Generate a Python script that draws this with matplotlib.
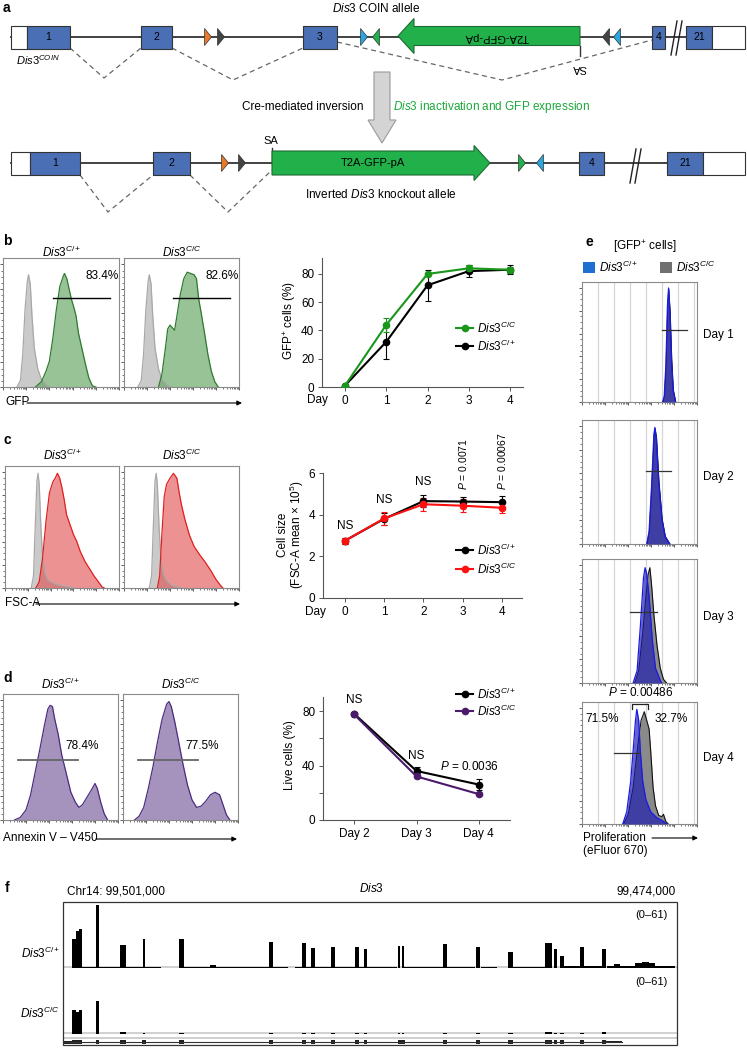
import numpy as np
import matplotlib
matplotlib.use('Agg')
import matplotlib.pyplot as plt
from matplotlib.patches import Rectangle, Polygon

plt.rcParams['font.family'] = ['Liberation Sans', 'DejaVu Sans']
plt.rcParams['mathtext.fontset'] = 'custom'
plt.rcParams['mathtext.rm'] = 'Liberation Sans'
plt.rcParams['mathtext.it'] = 'Liberation Sans:italic'
plt.rcParams['mathtext.bf'] = 'Liberation Sans:bold'

# ------------------------------------------------------------------ data
CP = r'$\mathit{Dis3}^{C/\!+}$'
CC = r'$\mathit{Dis3}^{C/C}$'

# b: GFP+ cells (%)
days_b = [0, 1, 2, 3, 4]
gfp_cc = [1, 44, 80, 84, 83]
gfp_cc_err = [0.5, 5, 1, 2.5, 2]
gfp_cp = [1, 32, 72, 82, 83]
gfp_cp_err = [0.5, 12, 11, 4, 3]

# c: cell size (FSC-A mean x 1e5)
days_c = [0, 1, 2, 3, 4]
size_cp = [2.75, 3.8, 4.65, 4.63, 4.6]
size_cp_err = [0.15, 0.3, 0.3, 0.2, 0.3]
size_cc = [2.75, 3.82, 4.5, 4.43, 4.33]
size_cc_err = [0.15, 0.3, 0.3, 0.3, 0.25]
size_annot = ['NS', 'NS', 'NS', r'$\mathit{P}$ = 0.0071', r'$\mathit{P}$ = 0.00067']

# d: live cells (%)
days_d = [2, 3, 4]
day_d_labels = ['Day 2', 'Day 3', 'Day 4']
live_cp = [78, 36, 26]
live_cp_err = [1, 3, 4]
live_cc = [77.5, 32, 19]
live_cc_err = [1, 1, 1]

# flow histograms (x fraction, y fraction of box)
b1_gray = [(0.12, 0), (0.15, 0.05), (0.17, 0.25), (0.19, 0.6), (0.21, 0.82), (0.22, 0.87), (0.235, 0.8),
           (0.25, 0.55), (0.27, 0.3), (0.30, 0.14), (0.33, 0.06), (0.37, 0.02), (0.40, 0)]
b1_green = [(0.28, 0), (0.33, 0.04), (0.37, 0.12), (0.40, 0.2), (0.43, 0.38), (0.46, 0.6), (0.49, 0.78),
            (0.52, 0.86), (0.53, 0.88), (0.55, 0.84), (0.57, 0.76), (0.59, 0.68), (0.61, 0.62), (0.63, 0.55),
            (0.65, 0.42), (0.68, 0.3), (0.71, 0.18), (0.74, 0.07), (0.77, 0.01), (0.80, 0)]
b2_gray = [(0.12, 0), (0.15, 0.05), (0.17, 0.25), (0.19, 0.6), (0.21, 0.82), (0.22, 0.87), (0.235, 0.8),
           (0.25, 0.55), (0.27, 0.3), (0.30, 0.14), (0.33, 0.06), (0.37, 0.02), (0.40, 0)]
b2_green = [(0.30, 0), (0.33, 0.1), (0.36, 0.3), (0.38, 0.45), (0.40, 0.48), (0.42, 0.46), (0.44, 0.44),
            (0.46, 0.55), (0.49, 0.72), (0.52, 0.84), (0.55, 0.89), (0.58, 0.88), (0.61, 0.87), (0.63, 0.84),
            (0.65, 0.68), (0.67, 0.58), (0.70, 0.42), (0.73, 0.25), (0.76, 0.12), (0.79, 0.04), (0.82, 0)]
b_pct = ['83.4%', '82.6%']

c1_gray = [(0.23, 0), (0.25, 0.1), (0.265, 0.5), (0.28, 0.88), (0.29, 0.94), (0.30, 0.85), (0.315, 0.5),
           (0.33, 0.25), (0.35, 0.12), (0.38, 0.06), (0.45, 0.03), (0.55, 0.01), (0.6, 0)]
c1_red = [(0.27, 0), (0.30, 0.05), (0.33, 0.25), (0.36, 0.55), (0.39, 0.78), (0.42, 0.87), (0.44, 0.9),
          (0.46, 0.94), (0.48, 0.9), (0.50, 0.82), (0.52, 0.72), (0.54, 0.6), (0.57, 0.52), (0.60, 0.44),
          (0.63, 0.38), (0.66, 0.3), (0.70, 0.22), (0.74, 0.16), (0.78, 0.1), (0.82, 0.05), (0.85, 0.01), (0.87, 0)]
c2_gray = [(0.22, 0), (0.24, 0.1), (0.255, 0.5), (0.27, 0.88), (0.28, 0.94), (0.29, 0.85), (0.305, 0.5),
           (0.32, 0.25), (0.34, 0.12), (0.37, 0.06), (0.42, 0.02), (0.5, 0)]
c2_red = [(0.29, 0), (0.31, 0.1), (0.33, 0.45), (0.35, 0.75), (0.37, 0.85), (0.40, 0.9), (0.43, 0.94),
          (0.46, 0.9), (0.48, 0.78), (0.50, 0.68), (0.53, 0.56), (0.57, 0.43), (0.61, 0.34), (0.66, 0.27),
          (0.70, 0.22), (0.75, 0.15), (0.80, 0.07), (0.84, 0.02), (0.86, 0)]

d1_purple = [(0.10, 0), (0.15, 0.02), (0.20, 0.08), (0.24, 0.2), (0.28, 0.38), (0.32, 0.56), (0.36, 0.75),
             (0.39, 0.88), (0.41, 0.91), (0.43, 0.9), (0.45, 0.8), (0.48, 0.68), (0.51, 0.52), (0.55, 0.37),
             (0.59, 0.22), (0.63, 0.14), (0.66, 0.1), (0.69, 0.12), (0.73, 0.18), (0.77, 0.24), (0.80, 0.29),
             (0.82, 0.25), (0.85, 0.14), (0.88, 0.05), (0.91, 0)]
d2_purple = [(0.10, 0), (0.14, 0.03), (0.18, 0.1), (0.22, 0.25), (0.26, 0.42), (0.30, 0.62), (0.34, 0.8),
             (0.38, 0.92), (0.40, 0.94), (0.42, 0.9), (0.45, 0.78), (0.48, 0.64), (0.52, 0.45), (0.56, 0.28),
             (0.60, 0.16), (0.64, 0.1), (0.68, 0.11), (0.72, 0.15), (0.76, 0.2), (0.80, 0.22), (0.84, 0.2),
             (0.87, 0.12), (0.90, 0.04), (0.93, 0)]
d_pct = ['78.4%', '77.5%']

# e: proliferation histograms (x in gridline units 0..7.2, y fraction)
e_cp = [
    [(5.05, 0), (5.15, 0.05), (5.25, 0.3), (5.35, 0.8), (5.42, 0.95), (5.5, 0.75), (5.6, 0.35), (5.7, 0.1), (5.85, 0)],
    [(4.05, 0), (4.2, 0.1), (4.35, 0.45), (4.5, 0.88), (4.56, 0.94), (4.65, 0.85), (4.8, 0.5), (5.0, 0.2), (5.2, 0.06), (5.5, 0)],
    [(3.2, 0), (3.45, 0.1), (3.65, 0.45), (3.85, 0.85), (3.95, 0.93), (4.05, 0.88), (4.2, 0.7), (4.4, 0.35), (4.6, 0.12), (4.9, 0.02), (5.0, 0)],
    [(2.55, 0), (2.8, 0.1), (3.05, 0.35), (3.2, 0.6), (3.35, 0.85), (3.43, 0.94), (3.55, 0.85), (3.65, 0.6), (3.8, 0.35),
     (4.0, 0.2), (4.3, 0.1), (4.7, 0.05), (5.0, 0.03), (5.3, 0)],
]
e_cc = [
    [(5.07, 0), (5.17, 0.05), (5.27, 0.3), (5.37, 0.8), (5.43, 0.94), (5.52, 0.75), (5.62, 0.35), (5.72, 0.1), (5.87, 0)],
    [(4.08, 0), (4.22, 0.1), (4.37, 0.45), (4.52, 0.88), (4.58, 0.93), (4.67, 0.85), (4.82, 0.5), (5.02, 0.2), (5.22, 0.06), (5.5, 0)],
    [(3.3, 0), (3.55, 0.1), (3.8, 0.4), (4.0, 0.7), (4.15, 0.88), (4.25, 0.93), (4.35, 0.8), (4.5, 0.55), (4.7, 0.3),
     (4.9, 0.12), (5.1, 0.03), (5.3, 0)],
    [(2.6, 0), (2.9, 0.08), (3.2, 0.3), (3.5, 0.65), (3.7, 0.85), (3.9, 0.92), (4.05, 0.85), (4.2, 0.78), (4.3, 0.6),
     (4.45, 0.3), (4.6, 0.15), (4.8, 0.07), (5.0, 0.06), (5.1, 0.08), (5.25, 0.02), (5.4, 0)],
]
e_days = ['Day 1', 'Day 2', 'Day 3', 'Day 4']
e_gate = [(5.0, 6.6, 0.6), (4.0, 5.6, 0.59), (3.0, 4.7, 0.57), (2.0, 3.6, 0.58)]

# f: RNA-seq coverage (kb from left edge, 0-61 scale)
exon_kb = [0.48, 0.63, 0.77, 1.52, 2.64, 3.56, 5.20, 9.15, 10.60, 10.99, 11.87, 12.93, 13.32, 14.78, 14.95,
           16.80, 18.25, 19.70, 21.35, 21.65, 21.94, 22.82, 23.79]
exon_w = [0.16, 0.16, 0.14, 0.17, 0.28, 0.12, 0.2, 0.2, 0.15, 0.14, 0.17, 0.17, 0.14, 0.12, 0.12,
          0.17, 0.15, 0.22, 0.32, 0.14, 0.17, 0.17, 0.17]
cov_cp = [28, 36, 38, 61, 22, 28.5, 28.5, 25, 24.7, 19.5, 20, 20, 18, 21.4, 21.4, 23, 20.4, 15.6, 24.7, 18.8, 11.4, 20.4, 18.8]
cov_cc = [23, 21, 23, 32, 1.5, 0.8, 1.2, 1.0, 1.0, 1.0, 1.2, 1.0, 0.8, 1.2, 0.8, 1.2, 1.2, 0.8, 1.5, 1.2, 1.0, 1.0, 1.5]
bump_kb = [6.6, 24.36, 25.3, 25.6, 25.9]
bump_h = [2.6, 4.2, 5.0, 5.8, 4.5]
bg_segments = [(0.85, 1.45, 1.0), (1.6, 2.5, 0.9), (2.78, 3.5, 0.8), (3.62, 4.3, 0.8), (5.3, 9.05, 0.9),
               (9.25, 9.9, 0.5), (10.2, 10.55, 0.8), (10.65, 10.95, 0.8), (11.05, 14.7, 1.0), (15.0, 16.7, 0.9),
               (16.9, 18.1, 0.9), (18.4, 19.1, 0.5), (19.8, 21.2, 1.3), (22.0, 22.75, 1.8), (22.9, 23.7, 1.8),
               (23.9, 26.9, 2.0)]

# ------------------------------------------------------------------ figure
W, H = 747, 1050
fig = plt.figure(figsize=(W / 100, H / 100), dpi=100)
ov = fig.add_axes([0, 0, 1, 1])
ov.set_xlim(0, W)
ov.set_ylim(H, 0)
ov.axis('off')
ov.set_zorder(10)
ov.patch.set_visible(False)


def px_axes(x0, y0, x1, y1):
    a = fig.add_axes([x0 / W, 1 - y1 / H, (x1 - x0) / W, (y1 - y0) / H])
    a.patch.set_visible(False)
    return a


def T(x, y, s, **kw):
    kw.setdefault('fontsize', 8.5)
    kw.setdefault('ha', 'center')
    kw.setdefault('va', 'center')
    return ov.text(x, y, s, **kw)


# panel letters
for lab, (x, y) in {'a': (3, 8), 'b': (3, 241), 'c': (3, 440), 'd': (3, 678), 'e': (585, 242), 'f': (5, 888)}.items():
    T(x, y, lab, fontsize=10, fontweight='bold', ha='left')

# ------------------------------------------------------------------ panel a
EXB = '#4a6fb5'
GRN = '#22b04b'


def exon(x0, x1, yc, label=None, fc=EXB, h=23):
    ov.add_patch(Rectangle((x0, yc - h / 2), x1 - x0, h, fc=fc, ec='#333333', lw=0.8, zorder=3))
    if label:
        T((x0 + x1) / 2, yc, label, fontsize=7.5, zorder=4)


def tri(x, yc, d, color, w=7, h=17):
    if d > 0:
        pts = [(x - w / 2, yc - h / 2), (x - w / 2, yc + h / 2), (x + w / 2, yc)]
    else:
        pts = [(x + w / 2, yc - h / 2), (x + w / 2, yc + h / 2), (x - w / 2, yc)]
    ov.add_patch(Polygon(pts, closed=True, fc=color, ec='#333333', lw=0.5, zorder=3))


def big_arrow(x_tail, x_neck, x_tip, yc, bh, hh):
    pts = [(x_tail, yc - bh / 2), (x_neck, yc - bh / 2), (x_neck, yc - hh / 2), (x_tip, yc),
           (x_neck, yc + hh / 2), (x_neck, yc + bh / 2), (x_tail, yc + bh / 2)]
    ov.add_patch(Polygon(pts, closed=True, fc=GRN, ec='#1d6b33', lw=0.8, zorder=3))


def dashed(pts):
    xs, ys = zip(*pts)
    ov.plot(xs, ys, color='#666666', lw=0.9, ls=(0, (4, 3)), zorder=1)


# top allele
y1 = 37
ov.plot([11, 745], [y1, y1], color='#333333', lw=1.3, zorder=1)
exon(11, 27, y1, fc='white')
exon(27, 70, y1, '1')
exon(141, 172, y1, '2')
tri(208, y1, 1, '#e8782a')
tri(221, y1, 1, '#444444')
exon(303, 337, y1, '3')
tri(364, y1, 1, '#29a8e0')
tri(376, y1, -1, GRN)
big_arrow(580, 414, 398, 36, 19, 35)
T(497, 37, 'T2A-GFP-pA', fontsize=8, rotation=180, zorder=4)
tri(606, y1, -1, '#444444')
tri(617, y1, -1, '#29a8e0')
exon(652, 665, y1, '4')
exon(686, 712, y1, '21')
exon(712, 745, y1, fc='white')
ov.plot([671, 677], [55, 21], color='#222222', lw=1.0, zorder=4)
ov.plot([676, 682], [55, 21], color='#222222', lw=1.0, zorder=4)
ov.plot([580, 580], [46, 56], color='#333333', lw=1.0)
T(579, 68, 'SA', fontsize=8, rotation=180)
T(38, 60, r'$\mathit{Dis3}^{COIN}$', fontsize=8)
T(376, 8, r'$\mathit{Dis3}$ COIN allele', fontsize=8.5)
dashed([(70, 48), (104, 78), (141, 48)])
dashed([(172, 48), (233, 80), (303, 48)])
dashed([(337, 42), (502, 80), (652, 40)])

# gray arrow
ov.add_patch(Polygon([(374, 72), (390, 72), (390, 120), (396, 120), (382, 143), (368, 120), (374, 120)],
                     closed=True, fc='#d4d4d4', ec='#9a9a9a', lw=0.8))
T(364, 107, 'Cre-mediated inversion', ha='right', fontsize=8.5)
T(393, 107, r'$\mathit{Dis3}$ inactivation and GFP expression', ha='left', fontsize=8.5, color='#1aa83a')

# bottom allele
y2 = 163
ov.plot([11, 745], [y2, y2], color='#333333', lw=1.3, zorder=1)
exon(11, 30, y2, fc='white')
exon(30, 80, y2, '1')
exon(153, 190, y2, '2')
tri(225, y2, 1, '#e8782a')
tri(242, y2, 1, '#444444')
ov.plot([272, 272], [148, 163], color='#333333', lw=1.0)
T(271, 141, 'SA', fontsize=8)
big_arrow(272, 474, 490, y2, 24, 35)
T(373, y2, 'T2A-GFP-pA', fontsize=8, zorder=4)
tri(522, y2, 1, GRN)
tri(540, y2, -1, '#29a8e0')
exon(579, 604, y2, '4')
exon(667, 703, y2, '21')
exon(703, 745, y2, fc='white')
ov.plot([630, 636], [183, 149], color='#222222', lw=1.0, zorder=4)
ov.plot([635, 641], [183, 149], color='#222222', lw=1.0, zorder=4)
dashed([(80, 175), (108, 212), (153, 175)])
dashed([(190, 175), (228, 212), (272, 170)])
T(381, 194, r'Inverted $\mathit{Dis3}$ knockout allele', fontsize=8.5)


# ------------------------------------------------------------------ flow histograms helpers
def style_hist(ax, ymax=1.0, xlim=(0, 1)):
    ax.set_xlim(*xlim)
    ax.set_ylim(0, ymax)
    for s in ax.spines.values():
        s.set_color('#8a8a8a')
        s.set_linewidth(0.8)
    ax.set_yticks(np.linspace(0, ymax * 0.95, 6))
    ax.set_yticks(np.linspace(0, ymax * 0.95, 21), minor=True)
    x0, x1 = xlim
    span = x1 - x0
    maj = [x0 + span * k / 5 for k in range(6)]
    mnr = [x0 + span * (k + np.log10(m)) / 5 for k in range(5) for m in range(2, 10)]
    ax.set_xticks(maj)
    ax.set_xticks(mnr, minor=True)
    ax.tick_params(which='major', length=2.5, width=0.6, color='#444444', labelleft=False, labelbottom=False)
    ax.tick_params(which='minor', length=1.3, width=0.5, color='#444444')


def curve(ax, pts, fc, ec, alpha=1.0, lw=0.9, z=2):
    x, y = np.array(pts).T
    ax.fill_between(x, 0, y, color=fc, alpha=alpha, lw=0, zorder=z)
    ax.plot(x, y, color=ec, lw=lw, zorder=z + 0.5)


def arrow(x0, x1, y):
    ov.annotate('', xy=(x1, y), xytext=(x0, y),
                arrowprops=dict(arrowstyle='-|>', lw=0.8, color='black', mutation_scale=7, shrinkA=0, shrinkB=0))


# ------------------------------------------------------------------ panel b
for i, (x0, x1, g, gr, pct) in enumerate([(3, 119, b1_gray, b1_green, b_pct[0]),
                                          (124, 239, b2_gray, b2_green, b_pct[1])]):
    ax = px_axes(x0, 258, x1, 387)
    style_hist(ax)
    curve(ax, g, '#cacaca', '#a8a8a8')
    curve(ax, gr, '#5fa35f', '#2f7a2f', alpha=0.65)
    ax.plot([0.43, 0.92], [0.69, 0.69], color='black', lw=1.0, zorder=5)
    ax.text(0.995, 0.86, pct, transform=ax.transAxes, ha='right', va='center', fontsize=8.5)
    T((x0 + x1) / 2, 252, CP if i == 0 else CC, fontsize=8.5)
T(5, 402, 'GFP', ha='left')
arrow(27, 242, 403)


def style_line(ax):
    for s in ['top', 'right']:
        ax.spines[s].set_visible(False)
    for s in ['left', 'bottom']:
        ax.spines[s].set_color('#555555')
        ax.spines[s].set_linewidth(0.8)
    ax.tick_params(length=3, width=0.7, color='#555555', labelsize=8.5, pad=2.5)


def series(ax, x, y, e, color):
    ax.errorbar(x, y, yerr=e, color=color, lw=1.5, marker='o', ms=4.5, capsize=2.2, elinewidth=0.8,
                capthick=0.8, zorder=3)


def legend_entry(y, color, label):
    ov.plot([456, 473], [y, y], color=color, lw=1.5)
    ov.plot([464.5], [y], marker='o', ms=4.5, color=color)
    T(477, y, label, ha='left')


axb = px_axes(322, 258, 523, 387)
style_line(axb)
series(axb, days_b, gfp_cp, gfp_cp_err, 'black')
series(axb, days_b, gfp_cc, gfp_cc_err, '#1a961a')
axb.set_xlim(-0.558, 4.315)
axb.set_ylim(0, 91.3)
axb.set_yticks([0, 20, 40, 60, 80])
axb.set_xticks(days_b)
T(317, 400, 'Day')
T(290, 320, r'GFP$^{+}$ cells (%)', rotation=90)
legend_entry(328, '#1a961a', CC)
legend_entry(346, 'black', CP)

# ------------------------------------------------------------------ panel c
for i, (x0, x1, g, rd) in enumerate([(5, 119, c1_gray, c1_red), (124, 239, c2_gray, c2_red)]):
    ax = px_axes(x0, 466, x1, 588)
    style_hist(ax)
    curve(ax, g, '#cacaca', '#a8a8a8')
    curve(ax, rd, '#e04a4a', '#e02020', alpha=0.6)
    T((x0 + x1) / 2, 455, CP if i == 0 else CC, fontsize=8.5)
T(5, 603, 'FSC-A', ha='left')
arrow(36, 240, 604)

axc = px_axes(323, 473, 522, 598)
style_line(axc)
series(axc, days_c, size_cp, size_cp_err, 'black')
series(axc, days_c, size_cc, size_cc_err, '#ff1010')
axc.set_xlim(-0.56, 4.51)
axc.set_ylim(0, 6)
axc.set_yticks([0, 2, 4, 6])
axc.set_xticks(days_c)
T(315, 612, 'Day')
T(283, 535, 'Cell size', rotation=90)
T(297, 535, r'(FSC-A mean $\times$ 10$^{5}$)', rotation=90)
for xd, yd, s in zip(days_c, [3.45, 4.7, 5.55, 5.2, 5.2], size_annot):
    if s == 'NS':
        axc.text(xd, yd, s, ha='center', va='center', fontsize=8.5)
    else:
        axc.text(xd, yd, s, ha='center', va='bottom', fontsize=7.5, rotation=90)
legend_entry(550, 'black', CP)
legend_entry(569, '#ff1010', CC)

# ------------------------------------------------------------------ panel d
for i, (x0, x1, p, pct) in enumerate([(3, 118, d1_purple, d_pct[0]), (123, 238, d2_purple, d_pct[1])]):
    ax = px_axes(x0, 694, x1, 820)
    style_hist(ax)
    curve(ax, p, '#a593bd', '#4a2d7f')
    ax.plot([0.13, 0.65], [0.48, 0.48], color='#666666', lw=1.3, zorder=5)
    ax.text(0.69, 0.59, pct, transform=ax.transAxes, ha='center', va='center', fontsize=8.5)
    T((x0 + x1) / 2, 684, CP if i == 0 else CC, fontsize=8.5)
T(3, 838, 'Annexin V – V450', ha='left')
arrow(96, 237, 839)

axd = px_axes(323, 697, 510, 820)
style_line(axd)
series(axd, days_d, live_cp, live_cp_err, 'black')
series(axd, days_d, live_cc, live_cc_err, '#4b1a6b')
axd.set_xlim(1.5, 4.5)
axd.set_ylim(0, 90.3)
axd.set_yticks([0, 40, 80])
axd.set_yticks([20, 60], minor=True)
axd.tick_params(which='minor', length=3, width=0.7, color='#555555')
axd.set_xticks(days_d)
axd.set_xticklabels(day_d_labels)
T(290, 755, 'Live cells (%)', rotation=90)
axd.text(2, 88, 'NS', ha='center', va='center', fontsize=8.5)
axd.text(3, 47, 'NS', ha='center', va='center', fontsize=8.5)
axd.text(3.85, 39, r'$\mathit{P}$ = 0.0036', ha='center', va='center', fontsize=8.5)
legend_entry(694, 'black', CP)
legend_entry(711, '#4b1a6b', CC)

# ------------------------------------------------------------------ panel e
T(645, 247, r'[GFP$^{+}$ cells]')
ov.add_patch(Rectangle((583, 262), 12, 11, fc='#1f6fd0', ec='none'))
T(599, 267, CP, ha='left')
ov.add_patch(Rectangle((660, 262), 12, 11, fc='#707070', ec='none'))
T(676, 267, CC, ha='left')
e_boxes = [(282, 402), (420, 544), (559, 683), (702, 824)]
e_day_y = [335, 477, 617, 758]
for i, (y0, y1b) in enumerate(e_boxes):
    ax = px_axes(582, y0, 697, y1b)
    style_hist(ax, xlim=(0, 7.2))
    for gx in range(1, 8):
        ax.axvline(gx, color='#d6d6d6', lw=0.9, zorder=0)
    curve(ax, e_cc[i], '#8a8a8a', '#111111', lw=0.8)
    curve(ax, e_cp[i], '#1a1ab0', '#1a1ae6', alpha=0.68, lw=0.9, z=3)
    gx0, gx1, gy = e_gate[i]
    ax.plot([gx0, gx1], [gy, gy], color='#333333', lw=0.9, zorder=6)
    T(703, e_day_y[i], e_days[i], ha='left')
T(641, 693, r'$\mathit{P}$ = 0.00486')
ov.plot([632, 632, 648, 648], [709, 704, 704, 709], color='#222222', lw=0.9)
T(585, 719, '71.5%', ha='left')
T(655, 719, '32.7%', ha='left')
T(583, 838, 'Proliferation', ha='left')
T(583, 851, '(eFluor 670)', ha='left')
arrow(652, 698, 838)

# ------------------------------------------------------------------ panel f
T(67, 892, 'Chr14: 99,501,000', ha='left', fontsize=8.5)
T(371, 888, r'$\mathit{Dis3}$', fontsize=8.5)
T(676, 892, '99,474,000', ha='right', fontsize=8.5)
ov.add_patch(Rectangle((63, 902), 614, 143, fc='none', ec='#333333', lw=0.9))
T(668, 915, '(0–61)', ha='right', fontsize=8)
T(668, 982, '(0–61)', ha='right', fontsize=8)
T(60, 953, CP, ha='right', fontsize=8.5)
T(60, 1013, CC, ha='right', fontsize=8.5)

for (ya, yb, cov, ymax, bg) in [(903, 968, cov_cp, 63, True), (970, 1034, cov_cc, 62, False)]:
    ax = px_axes(63, ya, 677, yb)
    ax.set_xlim(0, 27)
    ax.set_ylim(0, ymax)
    ax.axis('off')
    ax.axhline(0.5, color='#d0d0d0', lw=1.4, zorder=0)
    ax.bar(exon_kb, cov, width=exon_w, color='black', align='center', zorder=2)
    if bg:
        for s0, s1, lv in bg_segments:
            ax.fill_between([s0, s1], 0, [lv, lv], color='black', lw=0, zorder=1)
        ax.bar(bump_kb, bump_h, width=0.3, color='black', zorder=2)

axg = px_axes(63, 1035, 677, 1045)
axg.set_xlim(0, 27)
axg.set_ylim(0, 1)
axg.axis('off')
axg.axhspan(0.62, 0.85, color='#cfcfcf', lw=0)
axg.plot([0, 24.6], [0.3, 0.3], color='#333333', lw=0.8)
axg.bar(exon_kb, 0.45, bottom=0.08, width=[max(w, 0.14) for w in exon_w], color='#222222')
axg.bar([(23.79 + 24.6) / 2], 0.25, bottom=0.18, width=24.6 - 23.79, color='#222222')
axg.bar([0.4], 0.3, bottom=0.15, width=0.8, color='#222222')

fig.savefig('out.png', dpi=100)
